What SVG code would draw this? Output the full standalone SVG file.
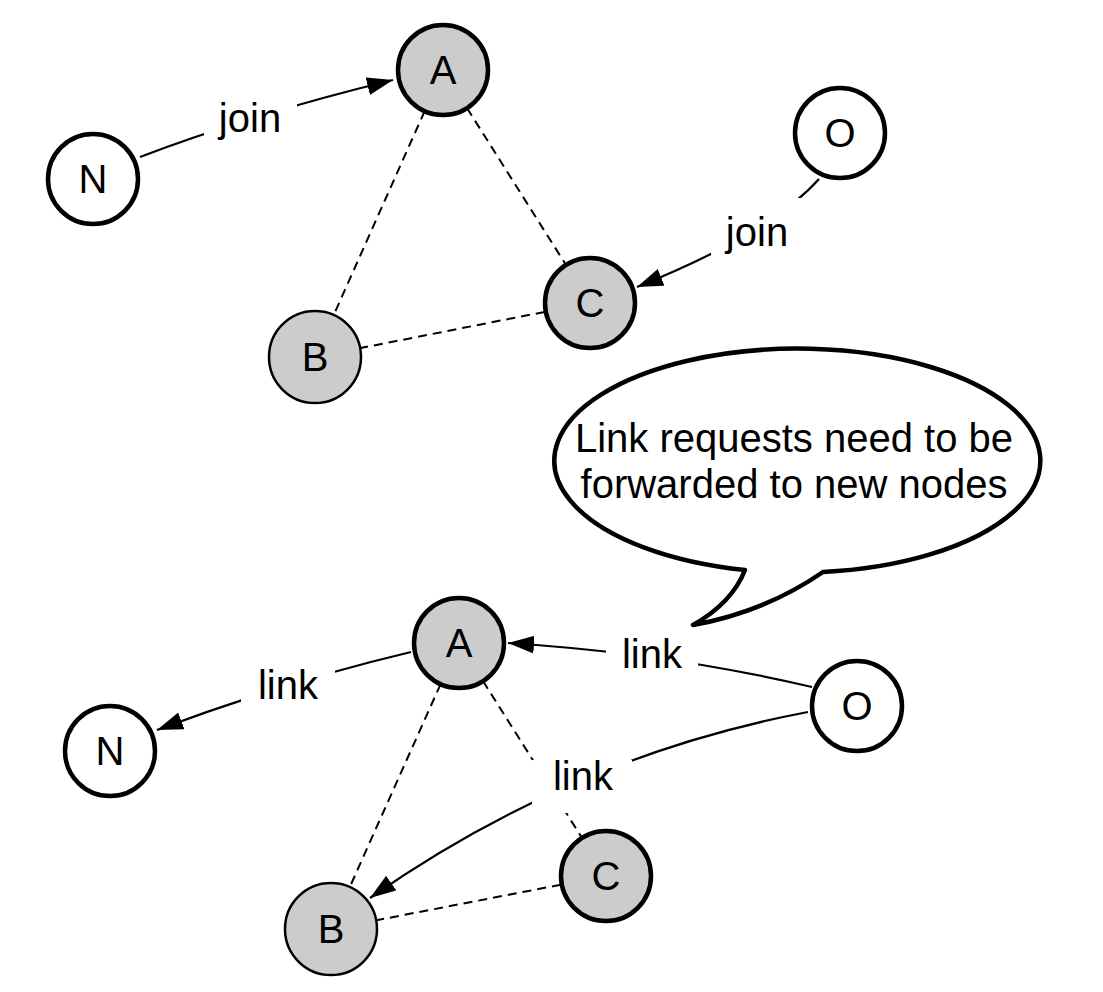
<svg xmlns="http://www.w3.org/2000/svg" width="1103" height="992" viewBox="0 0 1103 992">
<style>
text{font-family:"Liberation Sans",Arial,Helvetica,sans-serif;font-size:40px;fill:#000;text-anchor:middle}
.nd{stroke:#000;stroke-width:4.5}
.thin{stroke-width:2.5}
.g{fill:#cccccc}
.w{fill:#fff}
.dash{stroke:#000;stroke-width:2;stroke-dasharray:9,6;fill:none}
.arr{stroke:#000;stroke-width:2.2;fill:none;marker-end:url(#ah)}
.bg{fill:#fff;stroke:none}
</style>
<defs>
<marker id="ah" markerUnits="userSpaceOnUse" markerWidth="28" markerHeight="20" refX="26" refY="9" orient="auto">
<path d="M0,0 L26,9 L0,18 Z" fill="#000"/>
</marker>
</defs>
<rect width="1103" height="992" fill="#fff"/>
<g id="connectors">
<line class="dash" x1="443" y1="70" x2="315" y2="357"/>
<line class="dash" x1="443" y1="70" x2="590" y2="303"/>
<line class="dash" x1="315" y1="357" x2="590" y2="303"/>
<path class="arr" d="M140,157 Q253,114 393,80"/>
<path class="arr" d="M819,179 Q771,233 637,287"/>
<line class="dash" x1="459" y1="643" x2="331" y2="929"/>
<line class="dash" x1="459" y1="643" x2="606" y2="876"/>
<line class="dash" x1="331" y1="929" x2="606" y2="876"/>
<path class="arr" d="M411,652 Q285,682 157,730"/>
<path class="arr" d="M812,687 Q667,653 508,643"/>
<path class="arr" d="M808,712 Q571,757 370,898"/>
<g id="label-join-1"><rect class="bg" x="204" y="97" width="93" height="44"/><text x="250" y="132">join</text></g>
<g id="label-join-2"><rect class="bg" x="711" y="198" width="92" height="58"/><text x="757" y="246">join</text></g>
<g id="label-link-1"><rect class="bg" x="241" y="663" width="94" height="43"/><text x="288" y="699">link</text></g>
<g id="label-link-2"><rect class="bg" x="606" y="636" width="92" height="44"/><text x="652" y="668">link</text></g>
<g id="label-link-3"><rect class="bg" x="532" y="760" width="100" height="53"/><text x="583" y="790">link</text></g>
</g>
<g id="callout">
<path d="M745,570 Q732,603 693,625 Q765,612 823,572 A243 112 0 1 0 745,570 Z" fill="#fff" stroke="#000" stroke-width="4.5" stroke-linejoin="round"/>
<text x="794" y="452">Link requests need to be</text>
<text x="794" y="498">forwarded to new nodes</text>
</g>
<g id="node-N-top"><circle class="nd w" cx="93" cy="179" r="45"/><text x="93" y="193">N</text></g>
<g id="node-A-top"><circle class="nd g" cx="443" cy="70" r="45"/><text x="443" y="84">A</text></g>
<g id="node-B-top"><circle class="nd thin g" cx="315" cy="357" r="46"/><text x="315" y="371">B</text></g>
<g id="node-C-top"><circle class="nd g" cx="590" cy="303" r="45"/><text x="590" y="317">C</text></g>
<g id="node-O-top"><circle class="nd w" cx="840" cy="133" r="45"/><text x="840" y="147">O</text></g>
<g id="node-N-bottom"><circle class="nd w" cx="110" cy="751" r="45"/><text x="110" y="765">N</text></g>
<g id="node-A-bottom"><circle class="nd g" cx="459" cy="643" r="45"/><text x="459" y="657">A</text></g>
<g id="node-B-bottom"><circle class="nd thin g" cx="331" cy="929" r="46"/><text x="331" y="943">B</text></g>
<g id="node-C-bottom"><circle class="nd g" cx="606" cy="876" r="45"/><text x="606" y="890">C</text></g>
<g id="node-O-bottom"><circle class="nd w" cx="857" cy="706" r="45"/><text x="857" y="720">O</text></g>
</svg>
